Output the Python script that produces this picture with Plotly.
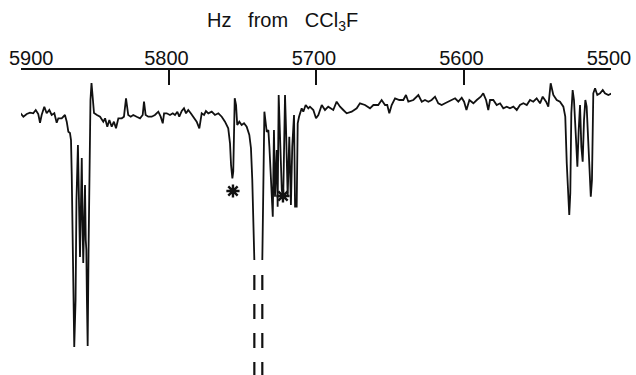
import plotly.graph_objects as go

# ---- data (frequency in Hz from CCl3F, intensity in arbitrary units) ----
freq_a = [5900.7, 5898.4, 5896.1, 5893.9, 5891.7, 5890.0, 5888.3, 5887.1, 5886.0, 5884.2,
          5882.6, 5880.8, 5879.2, 5877.4, 5875.8, 5874.7, 5872.4, 5870.2, 5869.0, 5867.9,
          5866.8, 5866.1, 5865.6, 5865.1, 5864.5, 5863.9, 5863.0, 5862.4, 5861.4, 5860.7,
          5860.0, 5859.3, 5858.8, 5858.3, 5857.8, 5857.3, 5856.6, 5856.1, 5855.7, 5855.3,
          5854.8, 5854.2, 5853.6, 5852.9, 5852.2, 5851.5, 5850.5, 5848.5, 5846.4, 5844.2,
          5843.0, 5841.5, 5840.1, 5838.5, 5837.0, 5835.6, 5834.0, 5831.7, 5830.2, 5828.8,
          5827.3, 5825.6, 5823.9, 5821.6, 5819.3, 5817.5, 5816.6, 5815.5, 5813.7, 5811.4,
          5809.2, 5806.9, 5805.3, 5803.9, 5803.0, 5801.2, 5799.0, 5797.1, 5795.6, 5794.0,
          5792.7, 5791.0, 5789.5, 5788.1, 5786.6, 5784.9, 5783.2, 5780.9, 5779.1, 5777.5,
          5775.9, 5774.6, 5773.0, 5770.7, 5768.5, 5766.2, 5763.9, 5761.7, 5759.5, 5758.3,
          5757.6, 5756.7, 5756.1, 5755.6, 5755.1, 5754.2, 5753.4, 5752.0, 5750.4, 5748.8,
          5747.0, 5745.2, 5744.1, 5743.2, 5742.5, 5741.8]
int_a = [262.3, 258.3, 261, 262.3, 261.7, 265, 261, 252.3, 260, 268.3,
         261.7, 265, 260, 261.7, 252.3, 256.7, 256.7, 260, 253.3, 243.3,
         242, 235, 200, 145, 75, 28, 75, 175, 230, 175,
         118, 175, 217, 155, 112, 145, 190, 135, 125, 75,
         29, 125, 225, 275, 292, 275, 262, 260, 258.3, 253.3,
         256.7, 248.3, 255, 248.3, 253.3, 246.7, 256.7, 256.7, 258.3, 276.7,
         260, 258.3, 260, 258.3, 256.7, 260, 273.3, 260, 258.3, 258.3,
         260, 263.3, 258.3, 251.7, 261.7, 261.7, 260, 261.7, 260, 263.3,
         258.3, 264, 266.7, 261.7, 265, 261.7, 258.3, 253.3, 246.7, 261.7,
         260, 264, 261.7, 263.3, 260, 261.7, 258.3, 253.3, 246.7, 231.7,
         210, 196.7, 203.3, 230, 276.7, 270, 250, 253.3, 250, 251.7,
         248.3, 240, 227, 195, 160, 115]

freq_b = [5736.4, 5735.0, 5733.4, 5732.3, 5731.6, 5730.7, 5730.0, 5729.3, 5728.5, 5727.8,
          5726.6, 5726.0, 5725.3, 5724.6, 5723.2, 5722.2, 5721.0, 5720.3, 5719.2, 5718.1,
          5717.0, 5716.1, 5714.9, 5714.2, 5713.1, 5712.4, 5711.5, 5709.7, 5708.6, 5707.0,
          5705.2, 5704.1, 5701.8, 5700.0, 5698.4, 5696.1, 5693.9, 5691.7, 5688.3, 5686.0,
          5683.7, 5681.5, 5679.2, 5675.8, 5672.4, 5670.2, 5666.8, 5663.4, 5661.1, 5657.8,
          5655.5, 5653.2, 5651.7, 5650.3, 5648.7, 5646.4, 5643.5, 5640.8, 5639.0, 5637.4,
          5634.0, 5630.6, 5628.3, 5626.1, 5623.8, 5621.6, 5619.3, 5617.1, 5614.8, 5612.5,
          5610.3, 5608.0, 5605.7, 5603.5, 5601.2, 5599.6, 5598.0, 5596.0, 5593.3, 5591.0,
          5588.3, 5586.6, 5584.7, 5583.2, 5582.0, 5579.8, 5577.5, 5575.2, 5573.0, 5570.7,
          5568.5, 5566.2, 5563.9, 5561.7, 5559.4, 5557.1, 5554.9, 5552.7, 5550.4, 5548.1,
          5546.3, 5544.0, 5542.5, 5540.9, 5539.1, 5536.8, 5534.6, 5532.3, 5531.0, 5530.0,
          5528.9, 5528.3, 5527.6, 5526.9, 5526.0, 5525.1, 5523.7, 5522.8, 5521.9, 5521.0,
          5520.1, 5519.2, 5518.3, 5517.4, 5516.5, 5515.4, 5513.7, 5512.9, 5512.0, 5510.8,
          5509.3, 5507.4, 5505.6, 5504.1, 5501.8, 5499.5, 5497.3]
int_b = [115, 263.3, 243, 245, 228.3, 195, 168.3, 158.3, 245, 178.3,
         225, 168.3, 280, 251.7, 185, 178.3, 280, 245, 178.3, 238.3,
         170, 228.3, 260, 168.3, 168.3, 251.7, 258.3, 266.7, 263.3, 270,
         266.7, 268.3, 265, 256.7, 260, 270, 265, 268.3, 265, 273.3,
         268.3, 265, 261.7, 263.3, 266.7, 271.7, 270, 266.7, 270, 270,
         275, 270, 270, 261.7, 270, 276.7, 275, 275, 280, 273.3,
         275, 280, 273.3, 275, 273.3, 275, 278.3, 271.7, 270, 271.7,
         273.3, 275, 276.7, 273.3, 277.3, 273.3, 265, 275, 271.7, 275,
         278.3, 281.7, 275, 265, 275, 275, 270, 271.7, 266.7, 268.3,
         266.7, 268.3, 265, 270, 271.7, 270, 275, 273.3, 276.7, 271.7,
         278.3, 273.3, 268.3, 291.7, 280, 275, 273.3, 268.3, 258.3, 211.7,
         175, 160, 181.7, 261.7, 285, 275, 235, 208.3, 245, 270,
         228.3, 213.3, 255, 275, 268.3, 228.3, 178.3, 195, 281.7, 286.7,
         280, 281.7, 285, 281.7, 280, 281.7, 280]

# off-scale lines (peaks running below the chart) and starred impurity peaks
offscale_freqs = [5741.8, 5736.4]
offscale_span = [100, -10]
star_freqs = [5756.3, 5722.4]
star_ints = [184, 179]

tick_vals = [5900, 5800, 5700, 5600, 5500]
tick_text = ["5900", "5800", "5700", "5600", "5500"]

INK = "#111111"
FONT = "Liberation Sans, Arial, sans-serif"
fig = go.Figure()

fig.add_trace(go.Scatter(x=freq_a, y=int_a, mode="lines",
                         line=dict(color=INK, width=1.8), hoverinfo="skip"))
fig.add_trace(go.Scatter(x=freq_b, y=int_b, mode="lines",
                         line=dict(color=INK, width=1.8), hoverinfo="skip"))
for f in offscale_freqs:
    fig.add_trace(go.Scatter(x=[f, f], y=offscale_span, mode="lines",
                             line=dict(color=INK, width=2.2, dash="15px,14px"),
                             hoverinfo="skip"))
fig.add_trace(go.Scatter(x=star_freqs, y=star_ints, mode="markers",
                         marker=dict(symbol="asterisk-open", size=11, color=INK,
                                     line=dict(color=INK, width=2.4)),
                         hoverinfo="skip"))

# the first tick label sits to the right of its tick (kept inside the page),
# so it is written as an annotation anchored at that tick value
axis_ticktext = [""] + tick_text[1:]

fig.update_xaxes(range=[5900, 5500], side="top", showline=True, linecolor=INK,
                 linewidth=1.6, mirror=False, showgrid=False, zeroline=False,
                 ticks="inside", ticklen=15, tickwidth=1.8, tickcolor=INK,
                 tickvals=tick_vals, ticktext=axis_ticktext, ticklabelstandoff=-5,
                 ticklabelshift=2,
                 tickfont=dict(family=FONT, size=20, color=INK),
                 automargin=False)
fig.update_yaxes(range=[0, 305], visible=False, fixedrange=True)

fig.add_annotation(text=tick_text[0], xref="x", yref="paper", x=tick_vals[0], y=1,
                   xanchor="center", yanchor="middle", xshift=10, yshift=12,
                   showarrow=False, font=dict(family=FONT, size=20, color=INK))

fig.add_annotation(text="Hz\u00a0\u00a0\u00a0from\u00a0\u00a0\u00a0CCl<sub>3</sub>F",
                   xref="paper", yref="paper", x=0.444, y=1, xanchor="center",
                   yanchor="middle", yshift=49, showarrow=False,
                   font=dict(family=FONT, size=20, color=INK))

fig.update_layout(width=636, height=375, showlegend=False,
                  margin=dict(l=21, r=25, t=70, b=0, pad=0),
                  paper_bgcolor="white", plot_bgcolor="white")

fig.write_html("out.html", config={"displayModeBar": False, "responsive": False},
               post_script="document.body.style.margin='0';")
